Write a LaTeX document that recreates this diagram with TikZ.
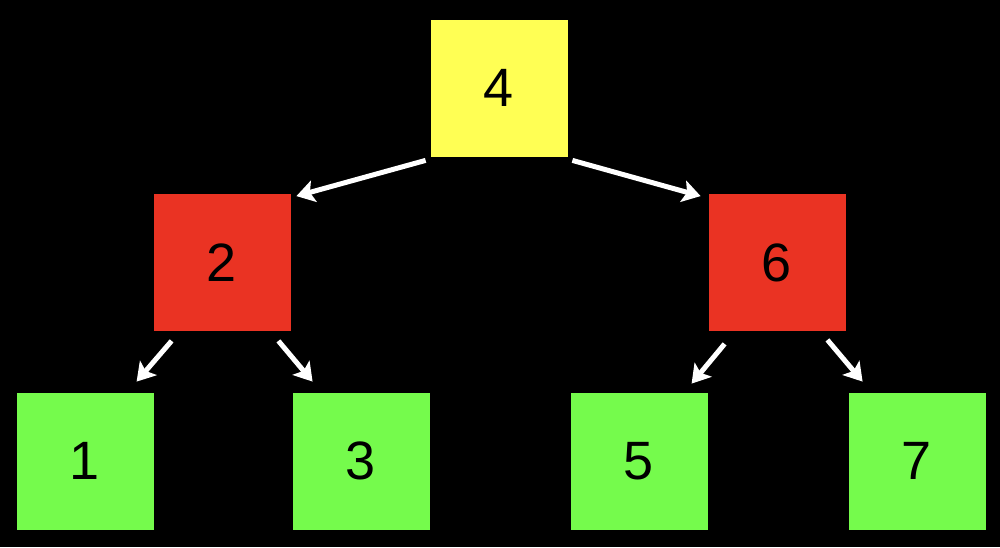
\documentclass[tikz,border=0pt]{standalone}
\usepackage{fontspec}
\setmainfont{Liberation Sans}
\usetikzlibrary{arrows.meta,calc}
\definecolor{byel}{RGB}{255,255,84}
\definecolor{bred}{RGB}{234,51,35}
\definecolor{bgrn}{RGB}{117,251,76}
\begin{document}
\begin{tikzpicture}[x=1pt,y=1pt,
  box/.style={draw=black,line width=0.8pt,minimum width=138pt,minimum height=138pt,inner sep=0pt,font=\fontsize{54}{54}\selectfont},
  arr/.style={draw=white,line width=5pt,-{Stealth[length=18pt,width=22pt,inset=4pt]}}]
\fill[black] (0,0) rectangle (1000,547);
\useasboundingbox (0,0) rectangle (1000,547);
\node[box,fill=byel] (n4) at (499,459) {4};
\node[box,fill=bred] (n2) at (222,284.5) {2};
\node[box,fill=bred] (n6) at (777,284.5) {6};
\node[box,fill=bgrn] (n1) at (85,86) {1};
\node[box,fill=bgrn] (n3) at (361,86) {3};
\node[box,fill=bgrn] (n5) at (639,86) {5};
\node[box,fill=bgrn] (n7) at (917,86) {7};
\draw[arr] ($(n4.south west)+(-4,-3)$) -- ($(n2.north east)+(5,-3)$);
\draw[arr] ($(n4.south east)+(4,-3)$) -- ($(n6.north west)+(-7,-3)$);
\draw[arr] ($(n2.south west)+(19,-9)$) -- ($(n1.north west)+(121,10)$);
\draw[arr] ($(n2.south east)+(-13,-9)$) -- ($(n3.north west)+(21,10)$);
\draw[arr] ($(n6.south west)+(17,-12)$) -- ($(n5.north west)+(122,8)$);
\draw[arr] ($(n6.south east)+(-19,-8)$) -- ($(n7.north west)+(15,10)$);
\end{tikzpicture}
\end{document}
